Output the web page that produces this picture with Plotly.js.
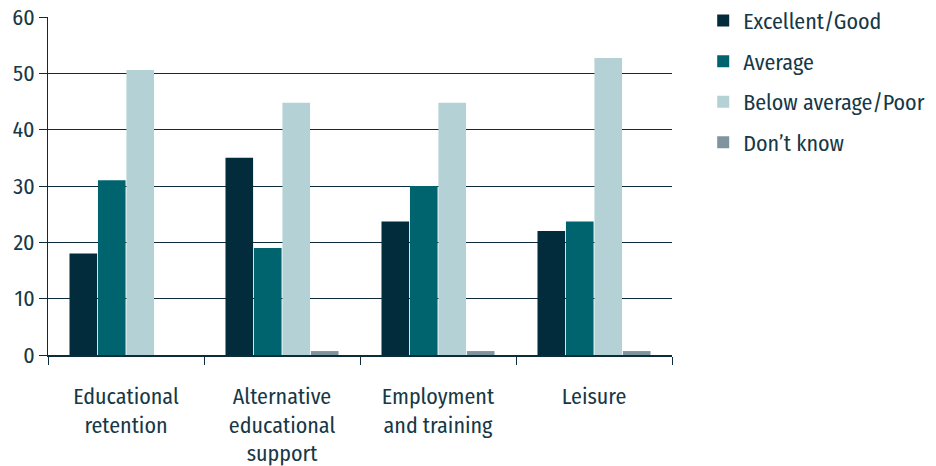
<!DOCTYPE html>
<html>
<head>
<meta charset="utf-8">
<script src="https://cdn.plot.ly/plotly-3.0.1.min.js"></script>
<style>html,body{margin:0;padding:0;background:#fff;}#chart{width:936px;height:466px;}</style>
</head>
<body>
<div id="chart"></div>
<script>
const categories = ["Educational<br>retention", "Alternative<br>educational<br>support", "Employment<br>and training", "Leisure"];
const seriesNames = ["Excellent/Good", "Average", "Below average/Poor", "Don’t know"];
const excellentGood = [18, 35, 23.7, 22];
const average = [31, 19, 30, 23.7];
const belowAveragePoor = [50.6, 44.8, 44.8, 52.7];
const dontKnow = [0, 0.7, 0.7, 0.7];
const yTicks = [0, 10, 20, 30, 40, 50, 60];

const colors = ["#022b3c", "#00646f", "#b4d1d6", "#7f949c"];
const values = [excellentGood, average, belowAveragePoor, dontKnow];
const textColor = "#163847";
const lineColor = "#0c2c3b";
const fontFamily = "'Fira Sans Condensed', 'Liberation Sans Narrow', 'DejaVu Sans Condensed', sans-serif";
const fs = 22;

const traces = seriesNames.map((name, i) => ({
  type: "bar",
  name: name,
  x: categories,
  y: values[i],
  marker: {color: colors[i], line: {width: 0}},
  legendgroup: "g" + i,
  hoverinfo: "x+y+name"
}));

const layout = {
  width: 936,
  height: 466,
  margin: {l: 48, r: 264, t: 17, b: 111, pad: 0, autoexpand: false},
  paper_bgcolor: "#ffffff",
  plot_bgcolor: "#ffffff",
  font: {family: fontFamily, size: fs, color: textColor},
  barmode: "group",
  bargap: 0.27,
  bargroupgap: 0.03,
  showlegend: true,
  legend: {
    x: 1.05, xanchor: "left",
    y: 1.051, yanchor: "top",
    font: {family: fontFamily, size: fs, color: textColor},
    tracegroupgap: 9,
    itemwidth: 30,
    bgcolor: "rgba(0,0,0,0)"
  },
  xaxis: {
    type: "category",
    showgrid: false,
    showline: true,
    linecolor: lineColor,
    linewidth: 1.5,
    ticks: "outside",
    tickson: "boundaries",
    ticklen: 8,
    tickcolor: lineColor,
    tickwidth: 1,
    ticklabelstandoff: 21,
    tickfont: {family: fontFamily, size: fs, color: textColor},
    fixedrange: true
  },
  yaxis: {
    range: [0, 60],
    tickvals: yTicks,
    ticktext: yTicks.map(String),
    showgrid: true,
    gridcolor: lineColor,
    gridwidth: 1,
    zeroline: false,
    showline: true,
    linecolor: lineColor,
    linewidth: 1,
    ticks: "outside",
    ticklen: 8,
    tickcolor: lineColor,
    tickwidth: 1,
    tickfont: {family: fontFamily, size: fs, color: textColor},
    fixedrange: true
  }
};

Plotly.newPlot("chart", traces, layout, {displayModeBar: false, staticPlot: true});
</script>
</body>
</html>
